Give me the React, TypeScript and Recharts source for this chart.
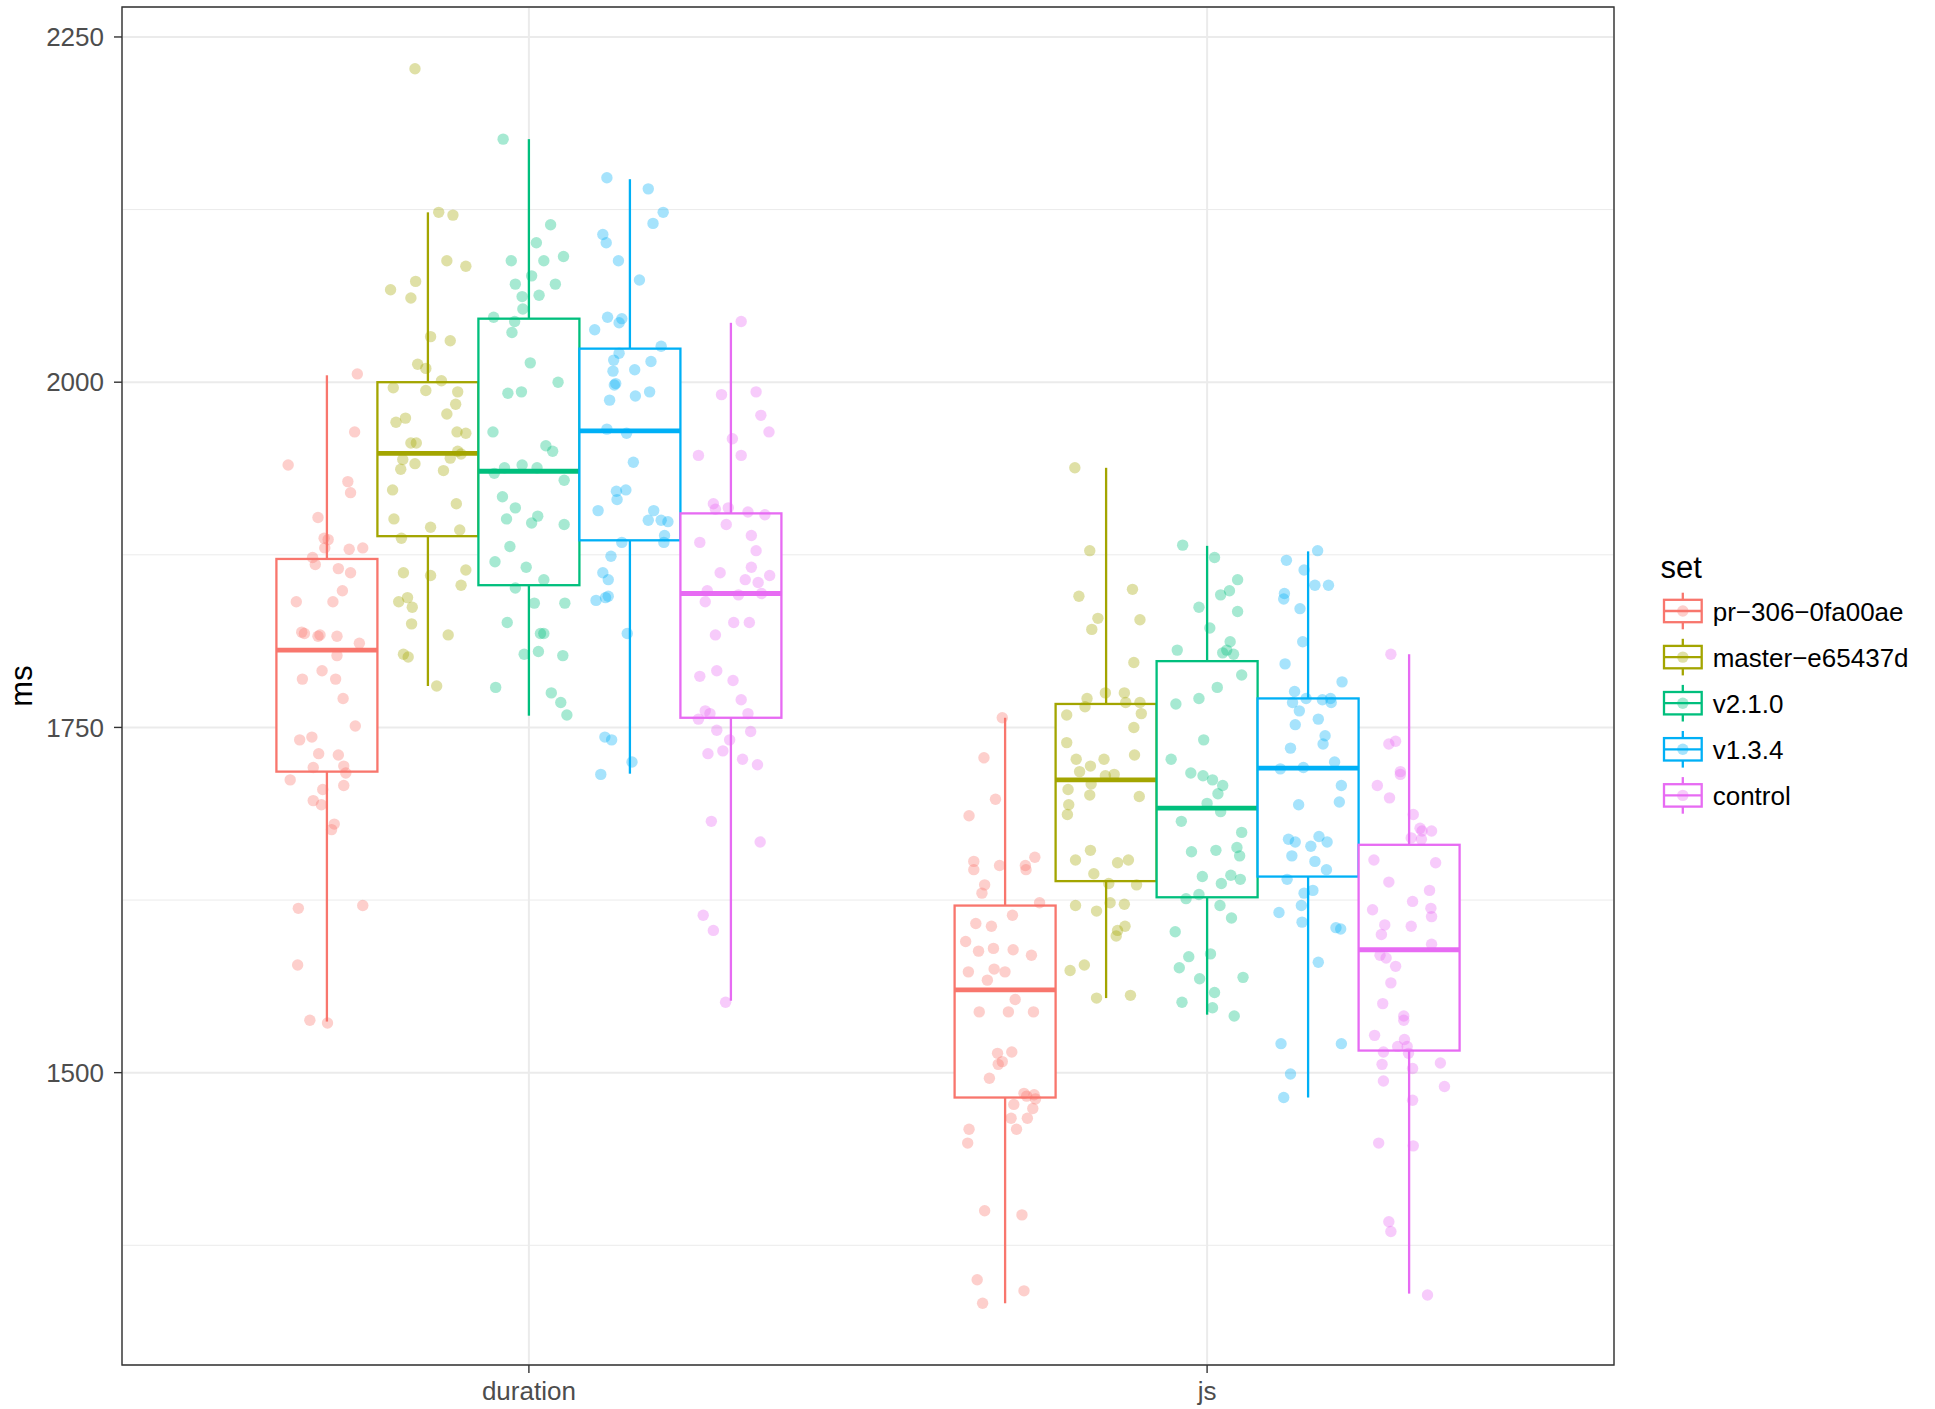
import React from 'react';
import { ComposedChart, Bar, Scatter, XAxis, YAxis, CartesianGrid, ReferenceArea } from 'recharts';

const FONT = '"Liberation Sans", Arial, Helvetica, sans-serif';

const categories = ['duration', 'js'];
const sets = ['pr−306−0fa00ae', 'master−e65437d', 'v2.1.0', 'v1.3.4', 'control'];
const colors = ['#F8766D', '#A3A500', '#00BF7D', '#00B0F6', '#E76BF3'];
const majorTicks = [1500, 1750, 2000, 2250];
const minorTicks = [1375, 1625, 1875, 2125];

// box statistics, per set: [duration, js]
const lowerWhisker = [[1537, 1333], [1780, 1554], [1758.5, 1542], [1716.5, 1482], [1552, 1340]];
const lowerHinge = [[1718, 1482], [1888.5, 1638.7], [1853, 1627], [1885.5, 1642], [1757, 1516]];
const medians = [[1806, 1560], [1948.5, 1712], [1935.5, 1691.5], [1964.7, 1720.5], [1847, 1589]];
const upperHinge = [[1872, 1621], [2000, 1767], [2046, 1798], [2024.3, 1771], [1905, 1665]];
const upperWhisker = [[2005, 1757], [2123, 1938], [2176, 1881.5], [2147, 1877.5], [2043, 1803]];

// raw measurements (ms) and their horizontal jitter (category units)
const prDuration = [2006, 1964, 1940, 1928, 1920, 1902, 1887, 1886, 1880, 1873, 1879, 1880, 1868, 1865, 1862, 1849, 1841, 1841, 1819, 1818, 1816, 1817, 1816, 1811, 1802, 1791, 1785, 1785, 1771, 1751, 1743, 1741, 1731, 1730, 1721, 1722, 1717, 1712, 1708, 1705, 1697, 1694, 1680, 1676, 1619, 1621, 1578, 1538, 1536];
const prDurationJitter = [0.047, 0.043, -0.055, 0.033, 0.037, -0.011, -0.002, 0.004, -0.001, -0.019, 0.035, 0.055, -0.015, 0.019, 0.037, 0.025, -0.043, 0.011, -0.035, -0.031, -0.011, -0.008, 0.017, 0.05, 0.017, -0.005, -0.034, 0.015, 0.026, 0.044, -0.02, -0.038, -0.01, 0.019, -0.018, 0.027, 0.03, -0.052, 0.027, -0.004, -0.018, -0.006, 0.013, 0.009, -0.04, 0.055, -0.041, -0.023, 0.003];
const masterDuration = [2227, 2123, 2121, 2088, 2084, 2067, 2073, 2061, 2033, 2030, 2013, 2010, 2001, 1996, 1994, 1993, 1984, 1977, 1971, 1974, 1964, 1963, 1956, 1956, 1950, 1948, 1944, 1937, 1941, 1945, 1936, 1922, 1912, 1901, 1895, 1887, 1893, 1862, 1860, 1864, 1853, 1841, 1844, 1837, 1825, 1817, 1803, 1801, 1780];
const masterDurationJitter = [-0.018, 0.017, 0.038, 0.029, 0.057, -0.054, -0.017, -0.024, 0.005, 0.034, -0.014, -0.002, 0.021, -0.05, -0.002, 0.045, 0.042, 0.029, -0.046, -0.032, 0.044, 0.057, -0.024, -0.016, 0.045, 0.05, -0.036, -0.039, -0.018, 0.034, 0.024, -0.051, 0.043, -0.049, 0.005, -0.038, 0.048, -0.035, 0.005, 0.057, 0.05, -0.042, -0.029, -0.022, -0.023, 0.031, -0.035, -0.028, 0.014];
const v210Duration = [2176, 2114, 2101, 2088, 2088, 2091, 2071, 2077, 2071, 2062, 2063, 2053, 2047, 2044, 2036, 2014, 2000, 1992, 1993, 1964, 1954, 1950, 1938, 1940, 1938, 1934, 1929, 1917, 1909, 1901, 1898, 1903, 1897, 1881, 1870, 1866, 1857, 1851, 1840, 1840, 1826, 1818, 1818, 1803, 1805, 1802, 1779, 1775, 1768, 1759];
const v210DurationJitter = [-0.038, 0.032, 0.011, -0.026, 0.022, 0.051, -0.02, 0.004, 0.039, -0.01, 0.015, -0.009, -0.052, -0.021, -0.025, 0.002, 0.043, -0.031, -0.011, -0.053, 0.025, 0.035, -0.036, -0.01, 0.012, -0.051, 0.052, -0.039, -0.02, -0.033, 0.004, 0.013, 0.052, -0.028, -0.05, -0.004, 0.022, -0.02, 0.008, 0.053, -0.032, 0.017, 0.022, -0.007, 0.014, 0.05, -0.049, 0.033, 0.047, 0.056];
const v134Duration = [2148, 2140, 2123, 2115, 2107, 2101, 2088, 2074, 2047, 2046, 2043, 2038, 2026, 2021, 2016, 2015, 2009, 2008, 1999, 1998, 1993, 1990, 1987, 1966, 1963, 1942, 1921, 1922, 1915, 1907, 1907, 1900, 1900, 1899, 1889, 1884, 1884, 1874, 1862, 1857, 1842, 1844, 1845, 1818, 1743, 1741, 1725, 1716];
const v134DurationJitter = [-0.035, 0.026, 0.048, 0.033, -0.041, -0.036, -0.018, 0.013, -0.034, -0.013, -0.017, -0.053, 0.045, -0.017, -0.025, 0.03, 0.006, -0.026, -0.022, -0.024, 0.028, 0.007, -0.031, -0.035, -0.006, 0.004, -0.021, -0.007, -0.02, -0.048, 0.034, 0.026, 0.045, 0.055, 0.05, 0.049, -0.013, -0.029, -0.041, -0.033, -0.051, -0.037, -0.033, -0.005, -0.038, -0.028, 0.002, -0.044];
const controlDuration = [2044, 1991, 1993, 1976, 1964, 1959, 1947, 1947, 1912, 1908, 1909, 1906, 1904, 1897, 1884, 1889, 1878, 1862, 1866, 1857, 1855, 1860, 1849, 1841, 1846, 1847, 1826, 1826, 1817, 1787, 1791, 1784, 1770, 1762, 1760, 1756, 1760, 1748, 1747, 1741, 1731, 1733, 1727, 1723, 1682, 1667, 1614, 1603, 1551];
const controlDurationJitter = [0.013, -0.016, 0.035, 0.042, 0.054, 0.0, -0.05, 0.013, -0.028, -0.025, -0.006, 0.023, 0.048, -0.009, -0.048, 0.028, 0.035, -0.018, 0.028, 0.019, 0.038, 0.055, -0.037, -0.04, 0.009, 0.043, 0.002, 0.025, -0.025, -0.048, -0.023, 0.001, 0.013, -0.04, -0.033, -0.05, 0.023, -0.023, 0.027, -0.004, -0.036, -0.014, 0.015, 0.037, -0.031, 0.041, -0.043, -0.028, -0.01];

const prJs = [1757, 1728, 1698, 1686, 1653, 1647, 1650, 1650, 1647, 1656, 1636, 1630, 1623, 1614, 1608, 1606, 1595, 1588, 1590, 1589, 1585, 1573, 1575, 1573, 1567, 1553, 1544, 1544, 1544, 1514, 1515, 1508, 1506, 1496, 1485, 1483, 1484, 1481, 1477, 1474, 1467, 1467, 1459, 1459, 1449, 1400, 1397, 1350, 1342, 1333];
const prJsJitter = [-0.002, -0.029, -0.012, -0.051, -0.044, -0.044, -0.006, 0.032, 0.033, 0.046, -0.028, -0.032, 0.053, 0.013, -0.041, -0.018, -0.056, -0.037, -0.015, 0.014, 0.041, -0.052, -0.014, 0.002, -0.024, 0.017, -0.036, 0.007, 0.044, -0.009, 0.012, -0.002, -0.008, -0.021, 0.03, 0.034, 0.045, 0.047, 0.015, 0.043, 0.011, 0.035, 0.019, -0.051, -0.053, -0.028, 0.027, -0.039, 0.03, -0.031];
const masterJs = [1938, 1878, 1845, 1850, 1829, 1828, 1821, 1797, 1775, 1775, 1771, 1765, 1768, 1768, 1760, 1759, 1750, 1739, 1730, 1727, 1727, 1722, 1718, 1715, 1716, 1709, 1705, 1700, 1701, 1694, 1687, 1661, 1654, 1652, 1654, 1644, 1637, 1636, 1621, 1617, 1623, 1622, 1606, 1603, 1599, 1578, 1574, 1556, 1554];
const masterJsJitter = [-0.045, -0.023, -0.039, 0.04, -0.011, 0.051, -0.02, 0.042, 0.0, 0.028, -0.027, -0.03, 0.03, 0.051, 0.053, -0.057, 0.042, -0.057, 0.043, -0.043, -0.002, -0.022, -0.038, 0.0, 0.013, -0.021, -0.055, 0.05, -0.023, -0.054, -0.056, -0.022, -0.044, 0.018, 0.034, -0.017, 0.005, 0.046, -0.044, -0.013, 0.007, 0.028, 0.029, 0.018, 0.016, -0.031, -0.052, 0.037, -0.013];
const v210Js = [1882, 1873, 1857, 1849, 1846, 1837, 1834, 1822, 1806, 1812, 1806, 1804, 1803, 1788, 1779, 1771, 1767, 1741, 1727, 1717, 1715, 1712, 1708, 1702, 1695, 1689, 1682, 1674, 1660, 1661, 1663, 1657, 1642, 1643, 1640, 1637, 1629, 1626, 1621, 1612, 1602, 1586, 1584, 1576, 1568, 1569, 1558, 1551, 1547, 1541];
const v210JsJitter = [-0.036, 0.011, 0.045, 0.033, 0.02, -0.012, 0.045, 0.004, -0.044, 0.034, 0.029, 0.023, 0.039, 0.051, 0.015, -0.012, -0.046, -0.005, -0.053, -0.024, -0.006, 0.008, 0.023, 0.016, 0.0, 0.02, -0.038, 0.051, -0.023, 0.013, 0.044, 0.048, -0.007, 0.035, 0.049, 0.021, -0.012, -0.031, 0.019, 0.036, -0.047, 0.005, -0.027, -0.041, -0.011, 0.053, 0.011, -0.037, 0.008, 0.04];
const v134Js = [1878, 1871, 1864, 1853, 1853, 1847, 1843, 1836, 1812, 1796, 1783, 1776, 1768, 1771, 1770, 1771, 1768, 1762, 1756, 1752, 1744, 1738, 1735, 1725, 1720, 1721, 1708, 1696, 1694, 1669, 1667, 1671, 1667, 1664, 1657, 1653, 1647, 1640, 1632, 1630, 1621, 1616, 1609, 1605, 1604, 1580, 1521, 1521, 1499, 1482];
const v134JsJitter = [0.013, -0.033, -0.007, 0.009, 0.029, -0.036, -0.037, -0.013, -0.009, -0.035, 0.049, -0.021, -0.024, -0.004, 0.02, 0.032, 0.033, -0.014, 0.014, -0.02, 0.024, 0.021, -0.027, 0.038, -0.042, -0.008, 0.048, 0.045, -0.015, -0.03, -0.02, 0.015, 0.027, 0.003, -0.025, 0.009, 0.026, -0.032, 0.006, -0.007, -0.011, -0.044, -0.01, 0.04, 0.047, 0.014, -0.041, 0.048, -0.027, -0.037];
const controlJs = [1803, 1738, 1740, 1718, 1716, 1708, 1699, 1687, 1677, 1675, 1675, 1670, 1669, 1654, 1652, 1638, 1632, 1624, 1618, 1619, 1613, 1607, 1600, 1606, 1593, 1585, 1583, 1577, 1565, 1550, 1541, 1538, 1527, 1524, 1519, 1519, 1515, 1514, 1506, 1503, 1507, 1494, 1490, 1480, 1449, 1447, 1392, 1385, 1339];
const controlJsJitter = [-0.029, -0.032, -0.022, -0.015, -0.015, -0.049, -0.031, 0.004, 0.014, 0.017, 0.031, 0.001, 0.016, -0.054, 0.037, -0.032, 0.028, 0.003, -0.056, 0.03, 0.031, -0.038, -0.043, 0.001, 0.031, -0.045, -0.036, -0.022, -0.029, -0.041, -0.01, -0.01, -0.053, -0.009, -0.019, -0.005, -0.04, -0.003, -0.042, 0.003, 0.044, -0.04, 0.05, 0.003, -0.047, 0.004, -0.032, -0.029, 0.025];

const valuesBySet = [
  [prDuration, prJs],
  [masterDuration, masterJs],
  [v210Duration, v210Js],
  [v134Duration, v134Js],
  [controlDuration, controlJs],
];
const jitterBySet = [
  [prDurationJitter, prJsJitter],
  [masterDurationJitter, masterJsJitter],
  [v210DurationJitter, v210JsJitter],
  [v134DurationJitter, v134JsJitter],
  [controlDurationJitter, controlJsJitter],
];

// ggplot-like 5% expansion of the data range
const allValues = valuesBySet.flat(2);
const dataMin = Math.min(...allValues);
const dataMax = Math.max(...allValues);
const expand = (dataMax - dataMin) * 0.05;
const yDomain: [number, number] = [dataMin - expand, dataMax + expand];

const DODGE = 0.15;

const boxRows = categories.map((cat, ci) => {
  const row: any = { cat };
  sets.forEach((_, si) => {
    row['box' + si] = [lowerWhisker[si][ci], upperWhisker[si][ci]];
    row['stats' + si] = {
      lo: lowerWhisker[si][ci],
      q1: lowerHinge[si][ci],
      med: medians[si][ci],
      q3: upperHinge[si][ci],
      hi: upperWhisker[si][ci],
    };
  });
  return row;
});

const scatterData = sets.map((_, si) =>
  categories.flatMap((_, ci) =>
    valuesBySet[si][ci].map((v, k) => ({
      x: ci + 1 + (si - 2) * DODGE + (jitterBySet[si][ci][k] ?? 0),
      y: v,
    }))
  )
);

function BoxShape(props: any) {
  const { x, y, width, height, payload, si } = props;
  const s = payload['stats' + si];
  const top = Math.min(y, y + height);
  const bottom = Math.max(y, y + height);
  // position inside the whisker range the library has already scaled
  const py = (v: number) => top + ((s.hi - v) / (s.hi - s.lo)) * (bottom - top);
  const color = colors[si];
  const cx = x + width / 2;
  return (
    <g>
      <line x1={cx} x2={cx} y1={py(s.hi)} y2={py(s.q3)} stroke={color} strokeWidth={2.3} />
      <line x1={cx} x2={cx} y1={py(s.q1)} y2={py(s.lo)} stroke={color} strokeWidth={2.3} />
      <rect x={x} y={py(s.q3)} width={width} height={py(s.q1) - py(s.q3)} fill="#FFFFFF" stroke={color} strokeWidth={2.3} />
      <line x1={x} x2={x + width} y1={py(s.med)} y2={py(s.med)} stroke={color} strokeWidth={4.8} />
    </g>
  );
}

function Overlay() {
  return (
    <svg width={1935} height={1409} style={{ position: 'absolute', left: 0, top: 0, pointerEvents: 'none', fontFamily: FONT }}>
      <text x={21} y={686} transform="rotate(-90, 21, 686)" textAnchor="middle" dominantBaseline="central" fontSize={31} fill="#000">ms</text>
      <text x={1660.5} y={577.5} fontSize={31} fill="#000">set</text>
      {sets.map((name, i) => {
        const cy = 611 + 46.1 * i;
        const c = colors[i];
        return (
          <g key={name}>
            <line x1={1682.8} x2={1682.8} y1={cy - 18.3} y2={cy + 18.3} stroke={c} strokeWidth={2.3} />
            <rect x={1664} y={cy - 11.2} width={37.7} height={22.4} fill="#FFFFFF" stroke={c} strokeWidth={2.3} />
            <line x1={1664} x2={1701.7} y1={cy} y2={cy} stroke={c} strokeWidth={2.3} />
            <circle cx={1682.8} cy={cy} r={5.7} fill={c} fillOpacity={0.35} />
            <text x={1712.7} y={cy + 9.5} fontSize={26} fill="#000">{name}</text>
          </g>
        );
      })}
    </svg>
  );
}

export default function App() {
  return (
    <div style={{ position: 'absolute', left: 0, top: 0, width: 1935, height: 1409, background: '#FFFFFF', fontFamily: FONT }}>
      <ComposedChart
        width={1935}
        height={1409}
        data={boxRows}
        margin={{ top: 7, right: 321, bottom: 0, left: 0 }}
        barCategoryGap="12.77%"
        barGap={0}
      >
        <XAxis
          xAxisId="cat"
          dataKey="cat"
          type="category"
          height={44}
          padding={{ left: 67.8, right: 67.8 }}
          axisLine={false}
          tickLine={{ stroke: '#333333', strokeWidth: 1.4 }}
          tickSize={8}
          tickMargin={9}
          tick={{ fill: '#4D4D4D', fontSize: 26 }}
        />
        <XAxis xAxisId="num" type="number" dataKey="x" domain={[0.4, 2.6]} allowDataOverflow hide />
        <YAxis
          yAxisId="main"
          type="number"
          dataKey="y"
          domain={yDomain}
          ticks={majorTicks}
          allowDataOverflow
          width={122}
          axisLine={false}
          tickLine={{ stroke: '#333333', strokeWidth: 1.4 }}
          tickSize={8}
          tickMargin={10}
          tick={{ fill: '#4D4D4D', fontSize: 26 }}
        />
        <YAxis yAxisId="minor" type="number" domain={yDomain} ticks={minorTicks} allowDataOverflow hide />
        <CartesianGrid xAxisId="cat" yAxisId="minor" vertical={false} stroke="#EBEBEB" strokeWidth={1} />
        <CartesianGrid xAxisId="cat" yAxisId="main" stroke="#EBEBEB" strokeWidth={2} />
        {sets.map((name, si) => (
          <Bar
            key={name}
            name={name}
            xAxisId="cat"
            yAxisId="main"
            dataKey={'box' + si}
            fill={colors[si]}
            isAnimationActive={false}
            shape={(p: any) => <BoxShape {...p} si={si} />}
          />
        ))}
        {sets.map((name, si) => (
          <Scatter
            key={name}
            name={name}
            xAxisId="num"
            yAxisId="main"
            data={scatterData[si]}
            fill={colors[si]}
            isAnimationActive={false}
            shape={(p: any) => <circle cx={p.cx} cy={p.cy} r={5.7} fill={colors[si]} fillOpacity={0.35} />}
          />
        ))}
        <ReferenceArea
          xAxisId="num"
          yAxisId="main"
          x1={0.4}
          x2={2.6}
          y1={yDomain[0]}
          y2={yDomain[1]}
          fill="none"
          stroke="#333333"
          strokeWidth={1.4}
          ifOverflow="visible"
        />
      </ComposedChart>
      <Overlay />
    </div>
  );
}
